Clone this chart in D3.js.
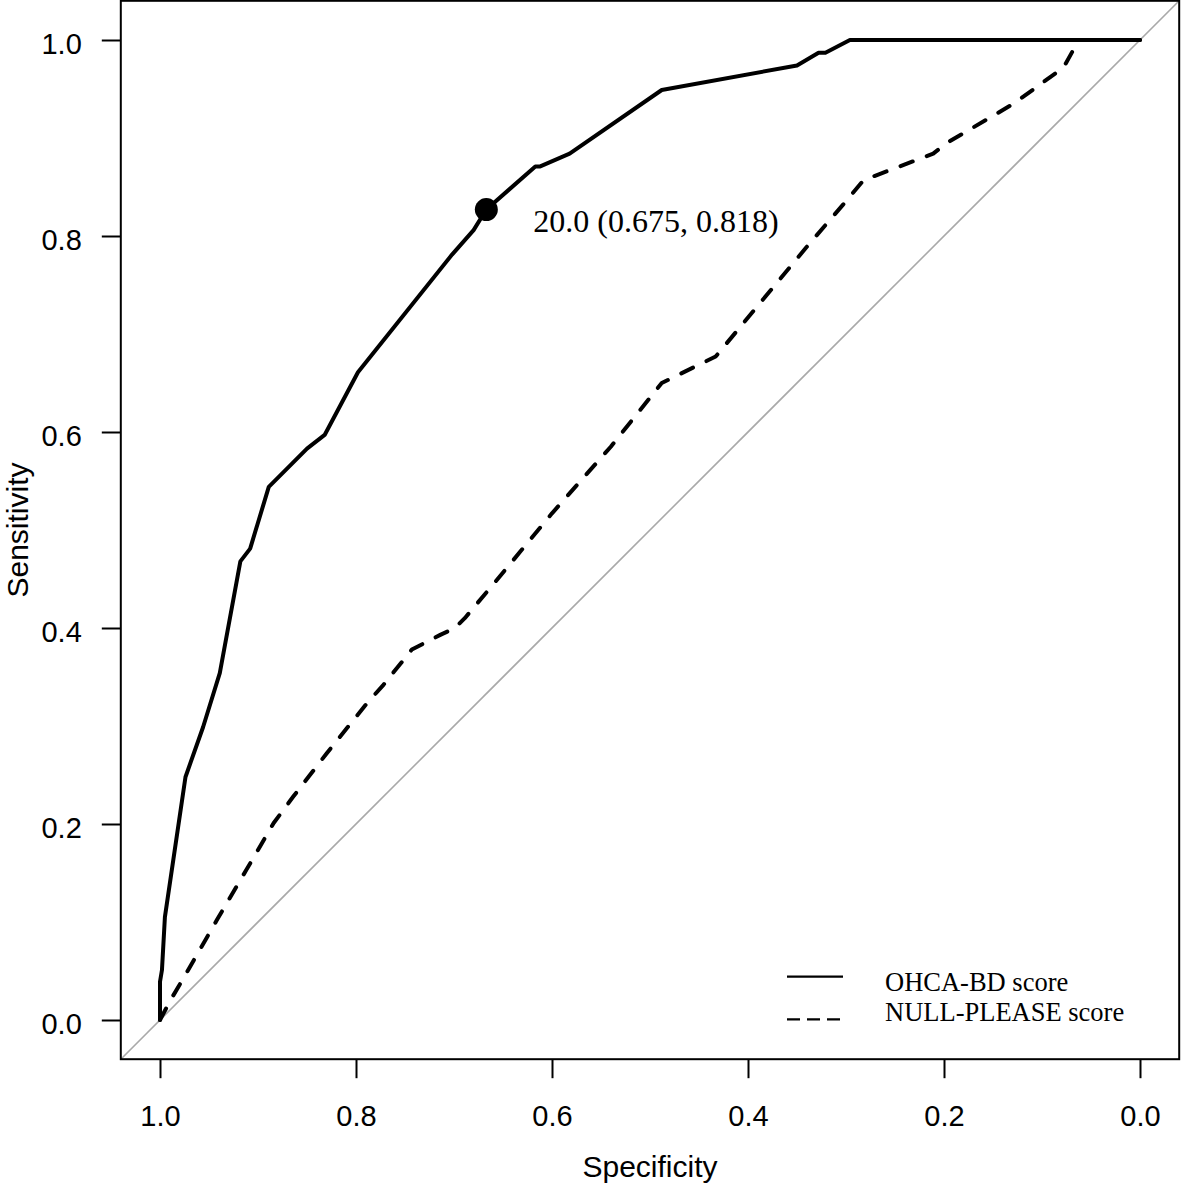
<!DOCTYPE html>
<html>
<head>
<meta charset="utf-8">
<script src="https://cdn.jsdelivr.net/npm/d3@7"></script>
<style>
  html, body { margin: 0; padding: 0; background: #fff; }
  svg { display: block; }
</style>
</head>
<body>
<svg id="chart" width="1181" height="1187"></svg>
<script>
// ---- Data (specificity, sensitivity) ----
const ohcaSpec = [1.000, 1.000, 0.998, 0.995, 0.974, 0.956, 0.939, 0.918, 0.908, 0.889, 0.850, 0.832, 0.798, 0.702, 0.680, 0.667, 0.617, 0.612, 0.582, 0.488, 0.350, 0.328, 0.321, 0.296, 0.000];
const ohcaSens = [0.000, 0.039, 0.051, 0.105, 0.248, 0.299, 0.354, 0.468, 0.481, 0.544, 0.583, 0.597, 0.661, 0.781, 0.806, 0.827, 0.871, 0.871, 0.884, 0.949, 0.974, 0.987, 0.987, 1.000, 1.000];

const nullSpec = [1.000, 0.990, 0.973, 0.942, 0.912, 0.884, 0.864, 0.830, 0.789, 0.772, 0.743, 0.714, 0.699, 0.689, 0.658, 0.600, 0.540, 0.488, 0.433, 0.340, 0.303, 0.282, 0.211, 0.197, 0.129, 0.078, 0.068, 0.063, 0.000];
const nullSens = [0.000, 0.019, 0.048, 0.102, 0.153, 0.201, 0.228, 0.272, 0.323, 0.342, 0.378, 0.393, 0.400, 0.410, 0.447, 0.517, 0.585, 0.650, 0.677, 0.789, 0.832, 0.857, 0.884, 0.895, 0.935, 0.972, 0.990, 1.000, 1.000];

const seriesNames = ["OHCA-BD score", "NULL-PLEASE score"];
const thresholdPoint = { spec: 0.667, sens: 0.827, label: "20.0 (0.675, 0.818)" };
const tickValues = [1.0, 0.8, 0.6, 0.4, 0.2, 0.0];
const xTitle = "Specificity";
const yTitle = "Sensitivity";

// ---- Layout ----
const svg = d3.select("#chart");
const x = d3.scaleLinear().domain([1.04, -0.04]).range([120.8, 1179.2]);
const y = d3.scaleLinear().domain([-0.04, 1.04]).range([1059.2, 0.8]);
const sansFont = "'Liberation Sans', Arial, Helvetica, sans-serif";
const serifFont = "'Liberation Serif', 'Times New Roman', Times, serif";

// identity diagonal
svg.append("line")
  .attr("x1", x(1.04)).attr("y1", y(-0.04))
  .attr("x2", x(-0.04)).attr("y2", y(1.04))
  .attr("stroke", "#a9a9a9").attr("stroke-width", 1.6);

const line = d3.line().x(d => x(d[0])).y(d => y(d[1]));

const ohca = ohcaSpec.map((s, i) => [s, ohcaSens[i]]);
const nul = nullSpec.map((s, i) => [s, nullSens[i]]);

svg.append("path").datum(nul)
  .attr("d", line).attr("fill", "none")
  .attr("stroke", "#000").attr("stroke-width", 4)
  .attr("stroke-linecap", "round").attr("stroke-linejoin", "round")
  .attr("stroke-dasharray", "13,15");

svg.append("path").datum(ohca)
  .attr("d", line).attr("fill", "none")
  .attr("stroke", "#000").attr("stroke-width", 4)
  .attr("stroke-linecap", "round").attr("stroke-linejoin", "round");

// threshold point + label
svg.append("circle")
  .attr("cx", x(thresholdPoint.spec)).attr("cy", y(thresholdPoint.sens))
  .attr("r", 11.5).attr("fill", "#000");
svg.append("text")
  .attr("x", x(thresholdPoint.spec) + 47).attr("y", y(thresholdPoint.sens) + 22)
  .attr("font-family", serifFont).attr("font-size", 32)
  .text(thresholdPoint.label);

// axes
const fmt = d3.format(".1f");
const xAxis = svg.append("g").attr("transform", `translate(0,${y(-0.04)})`)
  .call(d3.axisBottom(x).tickValues(tickValues).tickFormat(fmt).tickSize(19).tickPadding(27));
const yAxis = svg.append("g").attr("transform", `translate(${x(1.04)},0)`)
  .call(d3.axisLeft(y).tickValues(tickValues).tickFormat(fmt).tickSize(19).tickPadding(20));
[xAxis, yAxis].forEach(g => {
  g.select(".domain").remove();
  g.selectAll(".tick line").attr("stroke", "#000").attr("stroke-width", 2);
  g.selectAll(".tick text").attr("fill", "#000")
    .attr("font-family", sansFont).attr("font-size", 29);
});
yAxis.selectAll(".tick text").attr("dy", "0.45em");

// frame
svg.append("rect")
  .attr("x", x(1.04)).attr("y", y(1.04))
  .attr("width", x(-0.04) - x(1.04)).attr("height", y(-0.04) - y(1.04))
  .attr("fill", "none").attr("stroke", "#000").attr("stroke-width", 2);

// axis titles
svg.append("text")
  .attr("x", (x(1.04) + x(-0.04)) / 2).attr("y", 1177)
  .attr("text-anchor", "middle")
  .attr("font-family", sansFont).attr("font-size", 30)
  .text(xTitle);
svg.append("text")
  .attr("transform", `translate(28,${(y(-0.04) + y(1.04)) / 2}) rotate(-90)`)
  .attr("text-anchor", "middle")
  .attr("font-family", sansFont).attr("font-size", 30)
  .text(yTitle);

// legend
const legend = svg.append("g");
const legendItems = [
  { name: seriesNames[0], dash: null, lineY: 976.7, textY: 991 },
  { name: seriesNames[1], dash: "13,7", lineY: 1019.3, textY: 1021 }
];
legendItems.forEach(it => {
  legend.append("line")
    .attr("x1", 787).attr("x2", 843)
    .attr("y1", it.lineY).attr("y2", it.lineY)
    .attr("stroke", "#000").attr("stroke-width", 2.2)
    .attr("stroke-dasharray", it.dash);
  legend.append("text")
    .attr("x", 885).attr("y", it.textY)
    .attr("font-family", serifFont).attr("font-size", 26.5)
    .text(it.name);
});
</script>
</body>
</html>
